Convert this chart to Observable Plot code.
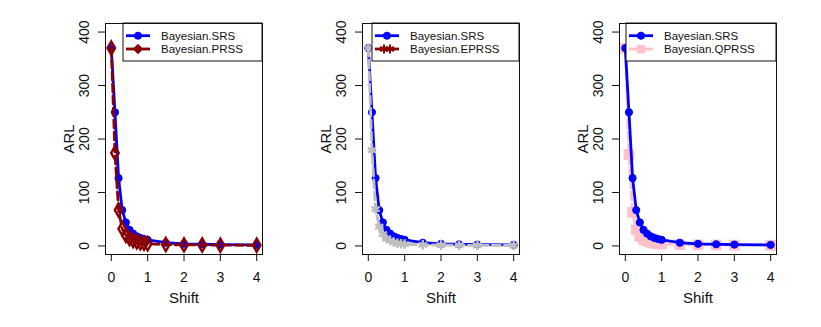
<!DOCTYPE html>
<html>
<head>
<meta charset="utf-8">
<script src="https://cdn.jsdelivr.net/npm/d3@7"></script>
<script src="https://cdn.jsdelivr.net/npm/@observablehq/plot@0.6"></script>
<style>
  html, body { margin: 0; padding: 0; background: #fff; }
  #wrap { position: relative; width: 821px; height: 327px; overflow: hidden; }
  .panel { position: absolute; top: 0; }
</style>
</head>
<body>
<div id="wrap"></div>
<script>
// ---- data ----
const shift    = [0, 0.1, 0.2, 0.3, 0.4, 0.5, 0.6, 0.7, 0.8, 0.9, 1, 1.5, 2, 2.5, 3, 4];
const arlSRS   = [370, 250, 127, 67, 44, 30, 23, 18, 15, 13, 11.5, 6, 4, 3.2, 2.6, 2];
const arlPRSS  = [370, 174, 67, 32, 20, 14, 10, 8, 6, 5, 4, 2.5, 2, 1.8, 1.5, 1.2];
const arlEPRSS = [370, 179, 69, 36, 22, 14, 10, 7, 5, 4, 3.5, 2, 1.5, 1.3, 1.2, 1.1];
const arlQPRSS = [370, 171, 63, 30, 18, 12, 9, 7, 5, 4, 3.5, 2.5, 2, 1.8, 1.5, 1.3];
const xTicks = [0, 1, 2, 3, 4];
const yTicks = [0, 100, 200, 300, 400];
const xLabel = "Shift";
const yLabel = "ARL";

const rows = (ys) => shift.map((s, i) => ({shift: s, arl: ys[i]}));

const srsStyle = {label: "Bayesian.SRS", data: rows(arlSRS), color: "#0000FF", dash: null, symbol: "circle", fill: true, r: 3.6, legendColor: "#0000FF", legendSymbol: "circle"};
const panels = [
  {offset: 0, legendWidth: 139, order: "srsFirst",
   other: {label: "Bayesian.PRSS", data: rows(arlPRSS), color: "#8B0000", dash: "8,4", symbol: "diamond", fill: false, r: 4.0, legendColor: "#8B0000", legendSymbol: "diamond"}},
  {offset: 257, legendWidth: 147, order: "srsFirst",
   other: {label: "Bayesian.EPRSS", data: rows(arlEPRSS), color: "#BEBEBE", dash: "8,4", symbol: "asterisk", fill: false, r: 4.5, legendColor: "#8B0000", legendSymbol: "asterisk"}},
  {offset: 514, legendWidth: 150, order: "srsLast",
   other: {label: "Bayesian.QPRSS", data: rows(arlQPRSS), color: "#FFC0CB", dash: "8,4", symbol: "square", fill: true, r: 5.5, legendColor: "#FFC0CB", legendSymbol: "square"}}
];

function seriesMarks(s) {
  return [
    Plot.line(s.data, {x: "shift", y: "arl", stroke: s.color, strokeWidth: 2.8, strokeDasharray: s.dash, curve: "linear"}),
    Plot.dot(s.data, {x: "shift", y: "arl", symbol: s.symbol, r: s.r,
      fill: s.fill ? s.color : "none", stroke: s.color, strokeWidth: s.fill ? 1 : 2.4})
  ];
}

function legendMark(entries, legendWidth) {
  return (index, scales, values, dim) => {
    const right = dim.width - dim.marginRight;
    const top = dim.marginTop;
    const left = right - legendWidth;
    const g = d3.create("svg:g");
    g.append("rect").attr("x", left).attr("y", top).attr("width", legendWidth).attr("height", 38)
      .attr("fill", "white").attr("stroke", "#111").attr("stroke-width", 1);
    entries.forEach((e, i) => {
      const y = top + 12.7 + i * 13.3;
      g.append("line").attr("x1", left + 3).attr("x2", left + 27).attr("y1", y).attr("y2", y)
        .attr("stroke", e.legendColor).attr("stroke-width", 2.8);
      const sym = {circle: d3.symbolCircle, diamond: d3.symbolDiamond2, asterisk: d3.symbolAsterisk, square: d3.symbolSquare}[e.legendSymbol];
      const path = d3.symbol(sym, e.legendSymbol === "circle" ? 40 : 55)();
      const pts = e.legendSymbol === "asterisk" ? [left + 12, left + 18] : [left + 15];
      pts.forEach(px => {
        g.append("path").attr("d", path).attr("transform", `translate(${px},${y})`)
          .attr("fill", e.legendSymbol === "asterisk" ? "none" : e.legendColor)
          .attr("stroke", e.legendColor).attr("stroke-width", e.legendSymbol === "asterisk" ? 2 : 1);
      });
      g.append("text").attr("x", left + 38).attr("y", y).attr("dy", "0.35em")
        .attr("text-anchor", "start")
        .attr("font-size", 11.5).attr("fill", "#111").text(e.label);
    });
    return g.node();
  };
}

const wrap = document.getElementById("wrap");
for (const p of panels) {
  const ordered = p.order === "srsFirst" ? [srsStyle, p.other] : [p.other, srsStyle];
  const chart = Plot.plot({
    width: 270, height: 327,
    marginLeft: 105, marginRight: 8, marginTop: 23, marginBottom: 73,
    x: {domain: [-0.16, 4.16]},
    y: {domain: [-16, 416]},
    style: {fontFamily: "'Liberation Sans', Arial, sans-serif", fontSize: "14px", color: "#111", background: "transparent", overflow: "visible"},
    marks: [
      Plot.axisX({ticks: xTicks, tickSize: 7, tickPadding: 11, tickFormat: d => String(d), label: null, fontSize: 14, stroke: "#111"}),
      Plot.axisY({ticks: yTicks, tickSize: 7, tickFormat: () => "", label: null, stroke: "#111"}),
      Plot.text(yTicks, {y: d => d, text: d => String(d), frameAnchor: "left", textAnchor: "middle", dx: -21, rotate: -90, fontSize: 14, fill: "#111"}),
      Plot.text([xLabel], {frameAnchor: "bottom", dy: 48, fontSize: 15, fill: "#111"}),
      Plot.text([yLabel], {frameAnchor: "left", textAnchor: "middle", dx: -36, rotate: -90, fontSize: 15, fill: "#111"}),
      ...ordered.flatMap(seriesMarks),
      legendMark([srsStyle, p.other], p.legendWidth),
      Plot.frame({stroke: "#111", strokeWidth: 1})
    ]
  });
  chart.classList.add("panel");
  chart.style.left = p.offset + "px";
  wrap.appendChild(chart);
}
</script>
</body>
</html>
